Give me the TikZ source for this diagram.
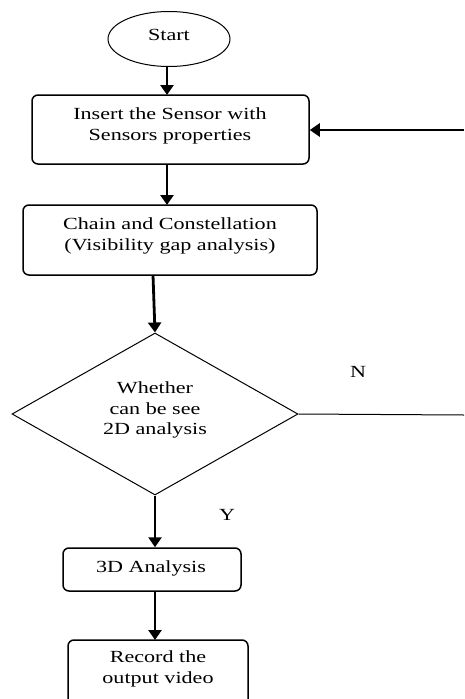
\documentclass[tikz,border=0pt]{standalone}
\usepackage{fontspec}
\setmainfont{Liberation Serif}[FakeStretch=1.3]
\usetikzlibrary{arrows.meta,shapes.geometric}
\begin{document}
\begin{tikzpicture}[x=1pt,y=-1pt,
  every node/.style={font=\fontsize{17}{20.5}\selectfont, align=center, inner sep=0pt},
  procbox/.style={draw, line width=1.5pt, rounded corners=6pt},
  flow/.style={line width=2.8pt, -{Triangle[length=10pt,width=13pt]}},
  thin/.style={line width=1pt}]
\useasboundingbox (0,0) rectangle (464,699);
\clip (0,0) rectangle (464,699);
\node[draw, ellipse, line width=1pt, minimum width=122pt, minimum height=55pt] (start) at (169,39) {};
\node (starttext) at (169,35) {Start};
\node[procbox, minimum width=277pt, minimum height=69pt] (box1) at (170.5,129.5) {};
\node (box1text) at (170,126) {Insert the Sensor with\\Sensors properties};
\node[procbox, minimum width=294pt, minimum height=70pt] (box2) at (170,240) {};
\node (box2text) at (170,236) {Chain and Constellation\\(Visibility gap analysis)};
\node[draw, diamond, line width=1pt, minimum width=286pt, minimum height=162pt] (dec) at (155,414) {};
\node (dectext) at (155,410) {Whether\\can be see\\2D analysis};
\node[procbox, minimum width=178pt, minimum height=43pt] (box3) at (152,569.5) {};
\node (box3text) at (151,568) {3D Analysis};
\node[procbox, minimum width=180pt, minimum height=80pt] (box4) at (158,680) {};
\node (box4text) at (158,669) {Record the\\output video};
\node (nlab) at (358,372) {N};
\node (ylab) at (227,515) {Y};
\coordinate (redge) at (464,415);
\coordinate (tedge) at (464,130);
\draw[flow] (167,67) -- (167,95);
\draw[flow] (167,164) -- (167,205);
\draw[flow] (153,275) -- (dec.north);
\draw[flow] (dec.south) -- (dec.south |- box3.north);
\draw[flow] (155,591) -- (155,640);
\draw[thin] (dec.east) -- (redge);
\draw[flow] (tedge) -- (box1.east |- tedge);
\end{tikzpicture}
\end{document}
